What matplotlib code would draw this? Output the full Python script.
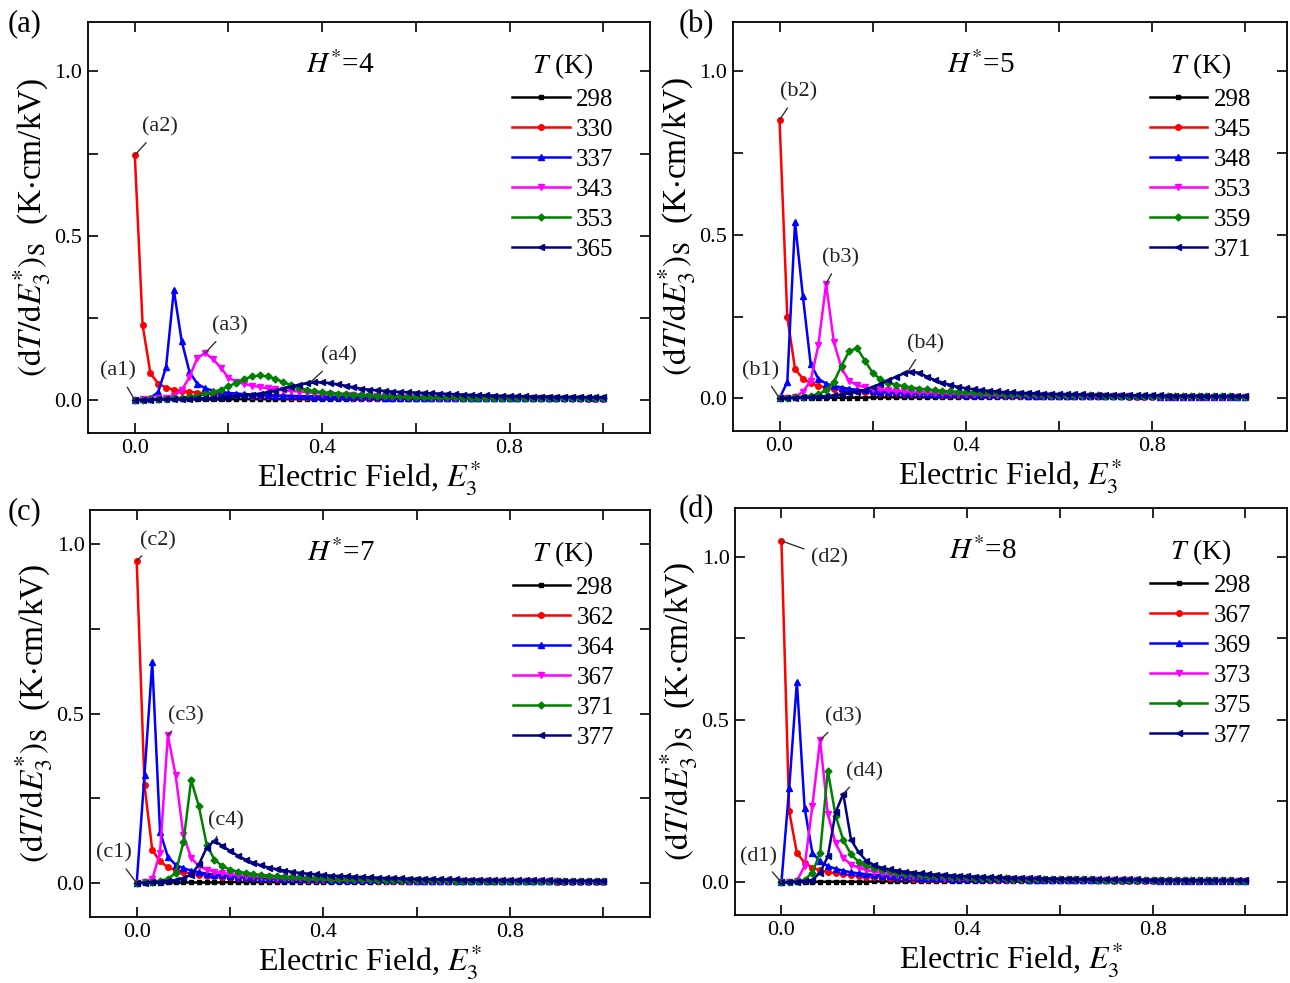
"""
Electrocaloric response (dT/dE3*)s versus electric field for four H* values.
"""

import matplotlib
matplotlib.use("Agg")
import matplotlib.pyplot as plt

plt.rcParams["font.family"] = ["Liberation Serif", "DejaVu Serif"]
plt.rcParams["mathtext.fontset"] = "stix"

# Normalised electric field E3* (sampled every 1/60)
E_FIELD = [
    0.0000, 0.0167, 0.0333, 0.0500, 0.0667, 0.0833, 0.1000, 0.1167, 0.1333, 0.1500,
    0.1667, 0.1833, 0.2000, 0.2167, 0.2333, 0.2500, 0.2667, 0.2833, 0.3000, 0.3167,
    0.3333, 0.3500, 0.3667, 0.3833, 0.4000, 0.4167, 0.4333, 0.4500, 0.4667, 0.4833,
    0.5000, 0.5167, 0.5333, 0.5500, 0.5667, 0.5833, 0.6000, 0.6167, 0.6333, 0.6500,
    0.6667, 0.6833, 0.7000, 0.7167, 0.7333, 0.7500, 0.7667, 0.7833, 0.8000, 0.8167,
    0.8333, 0.8500, 0.8667, 0.8833, 0.9000, 0.9167, 0.9333, 0.9500, 0.9667, 0.9833, 1.0000,
]

# 298 K curve (same flat response in every panel)
T298 = [
    0.000, 0.001, 0.001, 0.001, 0.002, 0.002, 0.002, 0.002, 0.002, 0.002,
    0.002, 0.002, 0.003, 0.003, 0.003, 0.003, 0.003, 0.003, 0.003, 0.003,
    0.003, 0.003, 0.003, 0.003, 0.003, 0.003, 0.003, 0.003, 0.003, 0.003,
    0.003, 0.003, 0.003, 0.003, 0.003, 0.003, 0.003, 0.003, 0.003, 0.003,
    0.003, 0.003, 0.003, 0.003, 0.003, 0.003, 0.003, 0.003, 0.003, 0.003,
    0.003, 0.003, 0.003, 0.003, 0.003, 0.003, 0.003, 0.003, 0.003, 0.003, 0.003,
]

# ---- panel (a), H* = 4 ----
A_TEMPS = [298, 330, 337, 343, 353, 365]
A_330 = [
    0.745, 0.228, 0.082, 0.050, 0.038, 0.032, 0.028, 0.025, 0.023, 0.021,
    0.019, 0.018, 0.017, 0.016, 0.015, 0.014, 0.013, 0.013, 0.012, 0.012,
    0.011, 0.011, 0.010, 0.010, 0.010, 0.009, 0.009, 0.009, 0.008, 0.008,
    0.008, 0.008, 0.007, 0.007, 0.007, 0.007, 0.007, 0.007, 0.006, 0.006,
    0.006, 0.006, 0.006, 0.006, 0.006, 0.006, 0.005, 0.005, 0.005, 0.005,
    0.005, 0.005, 0.005, 0.005, 0.005, 0.005, 0.005, 0.005, 0.004, 0.004, 0.004,
]
A_337 = [
    0.000, 0.002, 0.006, 0.025, 0.100, 0.335, 0.180, 0.086, 0.050, 0.036,
    0.029, 0.025, 0.022, 0.020, 0.018, 0.017, 0.016, 0.015, 0.014, 0.013,
    0.013, 0.012, 0.012, 0.011, 0.011, 0.010, 0.010, 0.010, 0.009, 0.009,
    0.009, 0.009, 0.008, 0.008, 0.008, 0.008, 0.008, 0.007, 0.007, 0.007,
    0.007, 0.007, 0.007, 0.006, 0.006, 0.006, 0.006, 0.006, 0.006, 0.006,
    0.006, 0.006, 0.005, 0.005, 0.005, 0.005, 0.005, 0.005, 0.005, 0.005, 0.005,
]
A_343 = [
    0.000, 0.002, 0.003, 0.005, 0.008, 0.014, 0.030, 0.070, 0.128, 0.143,
    0.125, 0.099, 0.068, 0.056, 0.049, 0.044, 0.040, 0.036, 0.033, 0.030,
    0.028, 0.026, 0.024, 0.022, 0.020, 0.019, 0.017, 0.016, 0.015, 0.014,
    0.013, 0.012, 0.012, 0.011, 0.010, 0.010, 0.009, 0.009, 0.008, 0.008,
    0.008, 0.007, 0.007, 0.007, 0.006, 0.006, 0.006, 0.006, 0.005, 0.005,
    0.005, 0.005, 0.005, 0.004, 0.004, 0.004, 0.004, 0.004, 0.004, 0.004, 0.004,
]
A_353 = [
    0.000, 0.001, 0.002, 0.003, 0.004, 0.006, 0.008, 0.011, 0.014, 0.018,
    0.024, 0.032, 0.042, 0.053, 0.064, 0.072, 0.075, 0.072, 0.065, 0.055,
    0.045, 0.037, 0.031, 0.027, 0.024, 0.022, 0.020, 0.018, 0.017, 0.016,
    0.015, 0.014, 0.013, 0.012, 0.012, 0.011, 0.011, 0.010, 0.010, 0.009,
    0.009, 0.009, 0.008, 0.008, 0.008, 0.008, 0.007, 0.007, 0.007, 0.007,
    0.007, 0.006, 0.006, 0.006, 0.006, 0.006, 0.006, 0.006, 0.005, 0.005, 0.005,
]
A_365 = [
    0.000, 0.001, 0.001, 0.002, 0.002, 0.003, 0.003, 0.004, 0.005, 0.006,
    0.007, 0.008, 0.010, 0.012, 0.014, 0.017, 0.020, 0.024, 0.029, 0.035,
    0.041, 0.047, 0.051, 0.054, 0.054, 0.052, 0.048, 0.044, 0.039, 0.035,
    0.032, 0.030, 0.028, 0.026, 0.025, 0.024, 0.023, 0.022, 0.021, 0.020,
    0.019, 0.018, 0.017, 0.016, 0.015, 0.015, 0.014, 0.013, 0.013, 0.012,
    0.012, 0.011, 0.011, 0.011, 0.010, 0.010, 0.010, 0.010, 0.009, 0.009, 0.009,
]

# ---- panel (b), H* = 5 ----
B_TEMPS = [298, 345, 348, 353, 359, 371]
B_345 = [
    0.851, 0.248, 0.090, 0.060, 0.046, 0.038, 0.033, 0.029, 0.026, 0.023,
    0.021, 0.019, 0.018, 0.017, 0.016, 0.015, 0.014, 0.013, 0.013, 0.012,
    0.012, 0.011, 0.011, 0.010, 0.010, 0.010, 0.009, 0.009, 0.009, 0.008,
    0.008, 0.008, 0.008, 0.007, 0.007, 0.007, 0.007, 0.007, 0.006, 0.006,
    0.006, 0.006, 0.006, 0.006, 0.006, 0.005, 0.005, 0.005, 0.005, 0.005,
    0.005, 0.005, 0.005, 0.005, 0.005, 0.005, 0.004, 0.004, 0.004, 0.004, 0.004,
]
B_348 = [
    0.000, 0.050, 0.539, 0.314, 0.106, 0.060, 0.045, 0.038, 0.033, 0.029,
    0.026, 0.024, 0.022, 0.020, 0.019, 0.018, 0.017, 0.016, 0.015, 0.014,
    0.013, 0.013, 0.012, 0.012, 0.011, 0.011, 0.010, 0.010, 0.010, 0.009,
    0.009, 0.009, 0.008, 0.008, 0.008, 0.008, 0.007, 0.007, 0.007, 0.007,
    0.007, 0.007, 0.006, 0.006, 0.006, 0.006, 0.006, 0.006, 0.006, 0.005,
    0.005, 0.005, 0.005, 0.005, 0.005, 0.005, 0.005, 0.005, 0.005, 0.005, 0.005,
]
B_353 = [
    0.000, 0.002, 0.004, 0.020, 0.053, 0.162, 0.350, 0.172, 0.091, 0.053,
    0.040, 0.034, 0.030, 0.027, 0.025, 0.023, 0.021, 0.020, 0.019, 0.018,
    0.017, 0.016, 0.015, 0.014, 0.013, 0.013, 0.012, 0.011, 0.011, 0.010,
    0.010, 0.009, 0.009, 0.009, 0.008, 0.008, 0.008, 0.007, 0.007, 0.007,
    0.007, 0.006, 0.006, 0.006, 0.006, 0.006, 0.005, 0.005, 0.005, 0.005,
    0.005, 0.005, 0.005, 0.005, 0.004, 0.004, 0.004, 0.004, 0.004, 0.004, 0.004,
]
B_359 = [
    0.000, 0.002, 0.003, 0.005, 0.008, 0.012, 0.025, 0.050, 0.100, 0.145,
    0.153, 0.115, 0.078, 0.058, 0.048, 0.042, 0.037, 0.033, 0.030, 0.027,
    0.025, 0.023, 0.021, 0.020, 0.019, 0.018, 0.017, 0.016, 0.015, 0.014,
    0.013, 0.013, 0.012, 0.012, 0.011, 0.011, 0.010, 0.010, 0.010, 0.009,
    0.009, 0.009, 0.008, 0.008, 0.008, 0.008, 0.007, 0.007, 0.007, 0.007,
    0.007, 0.007, 0.006, 0.006, 0.006, 0.006, 0.006, 0.006, 0.006, 0.005, 0.005,
]
B_371 = [
    0.000, 0.001, 0.002, 0.003, 0.004, 0.005, 0.007, 0.009, 0.012, 0.016,
    0.020, 0.026, 0.034, 0.044, 0.055, 0.066, 0.076, 0.082, 0.078, 0.066,
    0.056, 0.048, 0.041, 0.035, 0.031, 0.028, 0.025, 0.023, 0.021, 0.019,
    0.018, 0.017, 0.016, 0.015, 0.014, 0.014, 0.013, 0.013, 0.012, 0.012,
    0.011, 0.011, 0.011, 0.010, 0.010, 0.010, 0.009, 0.009, 0.009, 0.009,
    0.008, 0.008, 0.008, 0.008, 0.008, 0.007, 0.007, 0.007, 0.007, 0.007, 0.007,
]

# ---- panel (c), H* = 7 ----
C_TEMPS = [298, 362, 364, 367, 371, 377]
C_362 = [
    0.951, 0.289, 0.098, 0.064, 0.047, 0.038, 0.032, 0.028, 0.025, 0.022,
    0.020, 0.018, 0.017, 0.016, 0.015, 0.014, 0.013, 0.012, 0.012, 0.011,
    0.011, 0.010, 0.010, 0.010, 0.009, 0.009, 0.009, 0.008, 0.008, 0.008,
    0.008, 0.007, 0.007, 0.007, 0.007, 0.007, 0.006, 0.006, 0.006, 0.006,
    0.006, 0.006, 0.006, 0.005, 0.005, 0.005, 0.005, 0.005, 0.005, 0.005,
    0.005, 0.005, 0.005, 0.005, 0.004, 0.004, 0.004, 0.004, 0.004, 0.004, 0.004,
]
C_364 = [
    0.000, 0.320, 0.652, 0.152, 0.078, 0.054, 0.044, 0.037, 0.032, 0.028,
    0.025, 0.023, 0.021, 0.019, 0.018, 0.017, 0.016, 0.015, 0.014, 0.013,
    0.013, 0.012, 0.012, 0.011, 0.011, 0.010, 0.010, 0.010, 0.009, 0.009,
    0.009, 0.008, 0.008, 0.008, 0.008, 0.007, 0.007, 0.007, 0.007, 0.007,
    0.007, 0.006, 0.006, 0.006, 0.006, 0.006, 0.006, 0.006, 0.005, 0.005,
    0.005, 0.005, 0.005, 0.005, 0.005, 0.005, 0.005, 0.005, 0.005, 0.005, 0.005,
]
C_367 = [
    0.000, 0.003, 0.012, 0.090, 0.436, 0.319, 0.142, 0.074, 0.050, 0.040,
    0.034, 0.030, 0.027, 0.024, 0.022, 0.020, 0.019, 0.018, 0.016, 0.015,
    0.014, 0.014, 0.013, 0.012, 0.012, 0.011, 0.011, 0.010, 0.010, 0.009,
    0.009, 0.009, 0.008, 0.008, 0.008, 0.007, 0.007, 0.007, 0.007, 0.007,
    0.006, 0.006, 0.006, 0.006, 0.006, 0.006, 0.005, 0.005, 0.005, 0.005,
    0.005, 0.005, 0.005, 0.005, 0.005, 0.004, 0.004, 0.004, 0.004, 0.004, 0.004,
]
C_371 = [
    0.000, 0.002, 0.004, 0.007, 0.012, 0.030, 0.120, 0.304, 0.226, 0.113,
    0.069, 0.050, 0.040, 0.034, 0.030, 0.027, 0.024, 0.022, 0.020, 0.019,
    0.018, 0.017, 0.016, 0.015, 0.014, 0.013, 0.013, 0.012, 0.012, 0.011,
    0.011, 0.010, 0.010, 0.010, 0.009, 0.009, 0.009, 0.008, 0.008, 0.008,
    0.008, 0.007, 0.007, 0.007, 0.007, 0.007, 0.006, 0.006, 0.006, 0.006,
    0.006, 0.006, 0.006, 0.005, 0.005, 0.005, 0.005, 0.005, 0.005, 0.005, 0.005,
]
C_377 = [
    0.000, 0.001, 0.002, 0.004, 0.006, 0.009, 0.014, 0.025, 0.055, 0.105,
    0.125, 0.110, 0.095, 0.081, 0.069, 0.060, 0.052, 0.046, 0.041, 0.037,
    0.033, 0.030, 0.028, 0.026, 0.024, 0.022, 0.021, 0.020, 0.019, 0.018,
    0.017, 0.016, 0.015, 0.015, 0.014, 0.013, 0.013, 0.012, 0.012, 0.011,
    0.011, 0.011, 0.010, 0.010, 0.010, 0.009, 0.009, 0.009, 0.009, 0.008,
    0.008, 0.008, 0.008, 0.008, 0.007, 0.007, 0.007, 0.007, 0.007, 0.007, 0.007,
]

# ---- panel (d), H* = 8 ----
D_TEMPS = [298, 367, 369, 373, 375, 377]
D_367 = [
    1.049, 0.218, 0.091, 0.060, 0.045, 0.037, 0.032, 0.028, 0.025, 0.022,
    0.020, 0.018, 0.017, 0.016, 0.015, 0.014, 0.013, 0.012, 0.012, 0.011,
    0.011, 0.010, 0.010, 0.010, 0.009, 0.009, 0.009, 0.008, 0.008, 0.008,
    0.008, 0.007, 0.007, 0.007, 0.007, 0.007, 0.006, 0.006, 0.006, 0.006,
    0.006, 0.006, 0.006, 0.005, 0.005, 0.005, 0.005, 0.005, 0.005, 0.005,
    0.005, 0.005, 0.005, 0.005, 0.004, 0.004, 0.004, 0.004, 0.004, 0.004, 0.004,
]
D_369 = [
    0.000, 0.290, 0.616, 0.228, 0.091, 0.065, 0.050, 0.042, 0.036, 0.031,
    0.028, 0.025, 0.023, 0.021, 0.019, 0.018, 0.017, 0.016, 0.015, 0.014,
    0.013, 0.013, 0.012, 0.012, 0.011, 0.011, 0.010, 0.010, 0.010, 0.009,
    0.009, 0.009, 0.008, 0.008, 0.008, 0.008, 0.007, 0.007, 0.007, 0.007,
    0.007, 0.007, 0.006, 0.006, 0.006, 0.006, 0.006, 0.006, 0.006, 0.005,
    0.005, 0.005, 0.005, 0.005, 0.005, 0.005, 0.005, 0.005, 0.005, 0.005, 0.005,
]
D_373 = [
    0.000, 0.002, 0.005, 0.050, 0.235, 0.437, 0.210, 0.120, 0.075, 0.055,
    0.045, 0.038, 0.033, 0.029, 0.026, 0.024, 0.022, 0.020, 0.019, 0.017,
    0.016, 0.015, 0.014, 0.014, 0.013, 0.012, 0.012, 0.011, 0.011, 0.010,
    0.010, 0.009, 0.009, 0.009, 0.008, 0.008, 0.008, 0.007, 0.007, 0.007,
    0.007, 0.007, 0.006, 0.006, 0.006, 0.006, 0.006, 0.005, 0.005, 0.005,
    0.005, 0.005, 0.005, 0.005, 0.005, 0.004, 0.004, 0.004, 0.004, 0.004, 0.004,
]
D_375 = [
    0.000, 0.002, 0.004, 0.008, 0.030, 0.091, 0.343, 0.205, 0.130, 0.086,
    0.063, 0.052, 0.044, 0.038, 0.034, 0.030, 0.027, 0.025, 0.023, 0.021,
    0.020, 0.019, 0.018, 0.017, 0.016, 0.015, 0.014, 0.014, 0.013, 0.013,
    0.012, 0.012, 0.011, 0.011, 0.010, 0.010, 0.010, 0.009, 0.009, 0.009,
    0.009, 0.008, 0.008, 0.008, 0.008, 0.007, 0.007, 0.007, 0.007, 0.007,
    0.007, 0.006, 0.006, 0.006, 0.006, 0.006, 0.006, 0.006, 0.006, 0.005, 0.005,
]
D_377 = [
    0.000, 0.001, 0.002, 0.004, 0.008, 0.030, 0.080, 0.215, 0.272, 0.131,
    0.092, 0.066, 0.053, 0.045, 0.040, 0.036, 0.033, 0.030, 0.028, 0.026,
    0.024, 0.023, 0.021, 0.020, 0.019, 0.018, 0.017, 0.016, 0.016, 0.015,
    0.014, 0.014, 0.013, 0.013, 0.012, 0.012, 0.011, 0.011, 0.011, 0.010,
    0.010, 0.010, 0.010, 0.009, 0.009, 0.009, 0.009, 0.008, 0.008, 0.008,
    0.008, 0.008, 0.008, 0.007, 0.007, 0.007, 0.007, 0.007, 0.007, 0.007, 0.007,
]

COLORS = ["#000000", "#ff0000", "#0000ff", "#ff00ff", "#008000", "#000080"]
MARKERS = ["s", "o", "^", "v", "D", "<"]
MARKER_SIZES = [3.5, 4, 4.5, 4.5, 3.5, 4.5]


def draw_panel(fig, rect, letter, letter_x, h_star, temps, curves, xlim, ylim, notes):
    """
    Draws one (dT/dE3*)s panel.

    Args:
        fig: Figure to draw on.
        rect (list): Axes position in figure fractions.
        letter (str): Panel letter.
        letter_x (float): Figure x position of the panel letter.
        h_star (int): H* value shown in the panel.
        temps (list): Temperatures for the legend.
        curves (list): One y-series per temperature.
        xlim, ylim (tuple): Axis limits.
        notes (list): (text, target, text position) for each callout.
    """
    ax = fig.add_axes(rect)
    for temp, values, color, marker, ms in zip(temps, curves, COLORS, MARKERS, MARKER_SIZES):
        ax.plot(E_FIELD, values, color=color, marker=marker, markersize=ms,
                lw=1.8, label=str(temp))

    ax.set_xlim(*xlim)
    ax.set_ylim(*ylim)
    ax.set_xticks([0.0, 0.4, 0.8])
    ax.set_xticks([0.2, 0.6, 1.0], minor=True)
    ax.set_yticks([0.0, 0.5, 1.0])
    ax.set_yticks([0.25, 0.75], minor=True)
    ax.tick_params(which="both", direction="in", top=True, right=True,
                   length=7, width=1.2, labelsize=16, pad=4)
    for spine in ax.spines.values():
        spine.set_linewidth(1.3)

    ax.set_xlabel(r"Electric Field, $E_3^{*}$", fontsize=23, labelpad=0)
    ax.set_ylabel(r"$(\mathrm{d}T/\mathrm{d}E_3^{*})_\mathrm{S}$  (K$\cdot$cm/kV)",
                  fontsize=24, labelpad=1)

    ax.text(0.448, 0.895, r"$H^{*}$=" + str(h_star), transform=ax.transAxes,
            fontsize=21, ha="center", va="center")

    leg = ax.legend(title=r"$T$ (K)", loc="upper right", bbox_to_anchor=(0.962, 0.965),
                    frameon=False, fontsize=18, title_fontsize=20, handlelength=2.3,
                    handletextpad=0.25, labelspacing=0.3, borderaxespad=0.2)
    leg._legend_box.align = "center"

    for text, target, pos in notes:
        ax.annotate(text, xy=target, xytext=pos, fontsize=16, ha="center", va="center",
                    color="#222222",
                    arrowprops=dict(arrowstyle="-", color="#333333", lw=1.0,
                                    shrinkA=3, shrinkB=0))

    fig.text(letter_x, rect[1] + rect[3] - 0.002, "(" + letter + ")",
             fontsize=22, ha="center", va="center")
    return ax


def main():
    """
    Builds the 2x2 figure and saves it as out.png.
    """
    fig = plt.figure(figsize=(12.9, 9.83), dpi=100)

    draw_panel(fig, [0.0682, 0.5595, 0.4357, 0.4181], "a", 0.019, 4, A_TEMPS,
               [T298, A_330, A_337, A_343, A_353, A_365],
               (-0.1, 1.1), (-0.1, 1.15),
               [("(a1)", (0.0, 0.0), (-0.036, 0.088)),
                ("(a2)", (0.0, 0.745), (0.054, 0.83)),
                ("(a3)", (0.15, 0.143), (0.204, 0.225)),
                ("(a4)", (0.375, 0.054), (0.435, 0.134))])

    draw_panel(fig, [0.5682, 0.5615, 0.4295, 0.416], "b", 0.540, 5, B_TEMPS,
               [T298, B_345, B_348, B_353, B_359, B_371],
               (-0.1, 1.09), (-0.1, 1.15),
               [("(b1)", (0.0, 0.0), (-0.04, 0.085)),
                ("(b2)", (0.0, 0.851), (0.04, 0.936)),
                ("(b3)", (0.1, 0.35), (0.13, 0.43)),
                ("(b4)", (0.276, 0.082), (0.314, 0.167))])

    draw_panel(fig, [0.0698, 0.0671, 0.4341, 0.414], "c", 0.019, 7, C_TEMPS,
               [T298, C_362, C_364, C_367, C_371, C_377],
               (-0.1, 1.1), (-0.1, 1.1),
               [("(c1)", (0.0, 0.0), (-0.048, 0.088)),
                ("(c2)", (0.0, 0.951), (0.045, 1.01)),
                ("(c3)", (0.0667, 0.436), (0.105, 0.494)),
                ("(c4)", (0.1667, 0.125), (0.191, 0.185))])

    draw_panel(fig, [0.5698, 0.0692, 0.428, 0.414], "d", 0.540, 8, D_TEMPS,
               [T298, D_367, D_369, D_373, D_375, D_377],
               (-0.1, 1.09), (-0.1, 1.15),
               [("(d1)", (0.0, 0.0), (-0.049, 0.08)),
                ("(d2)", (0.0, 1.049), (0.103, 0.997)),
                ("(d3)", (0.0833, 0.437), (0.133, 0.508)),
                ("(d4)", (0.1333, 0.272), (0.178, 0.34))])

    fig.savefig("out.png", dpi=100)
    plt.close(fig)


if __name__ == "__main__":
    main()
